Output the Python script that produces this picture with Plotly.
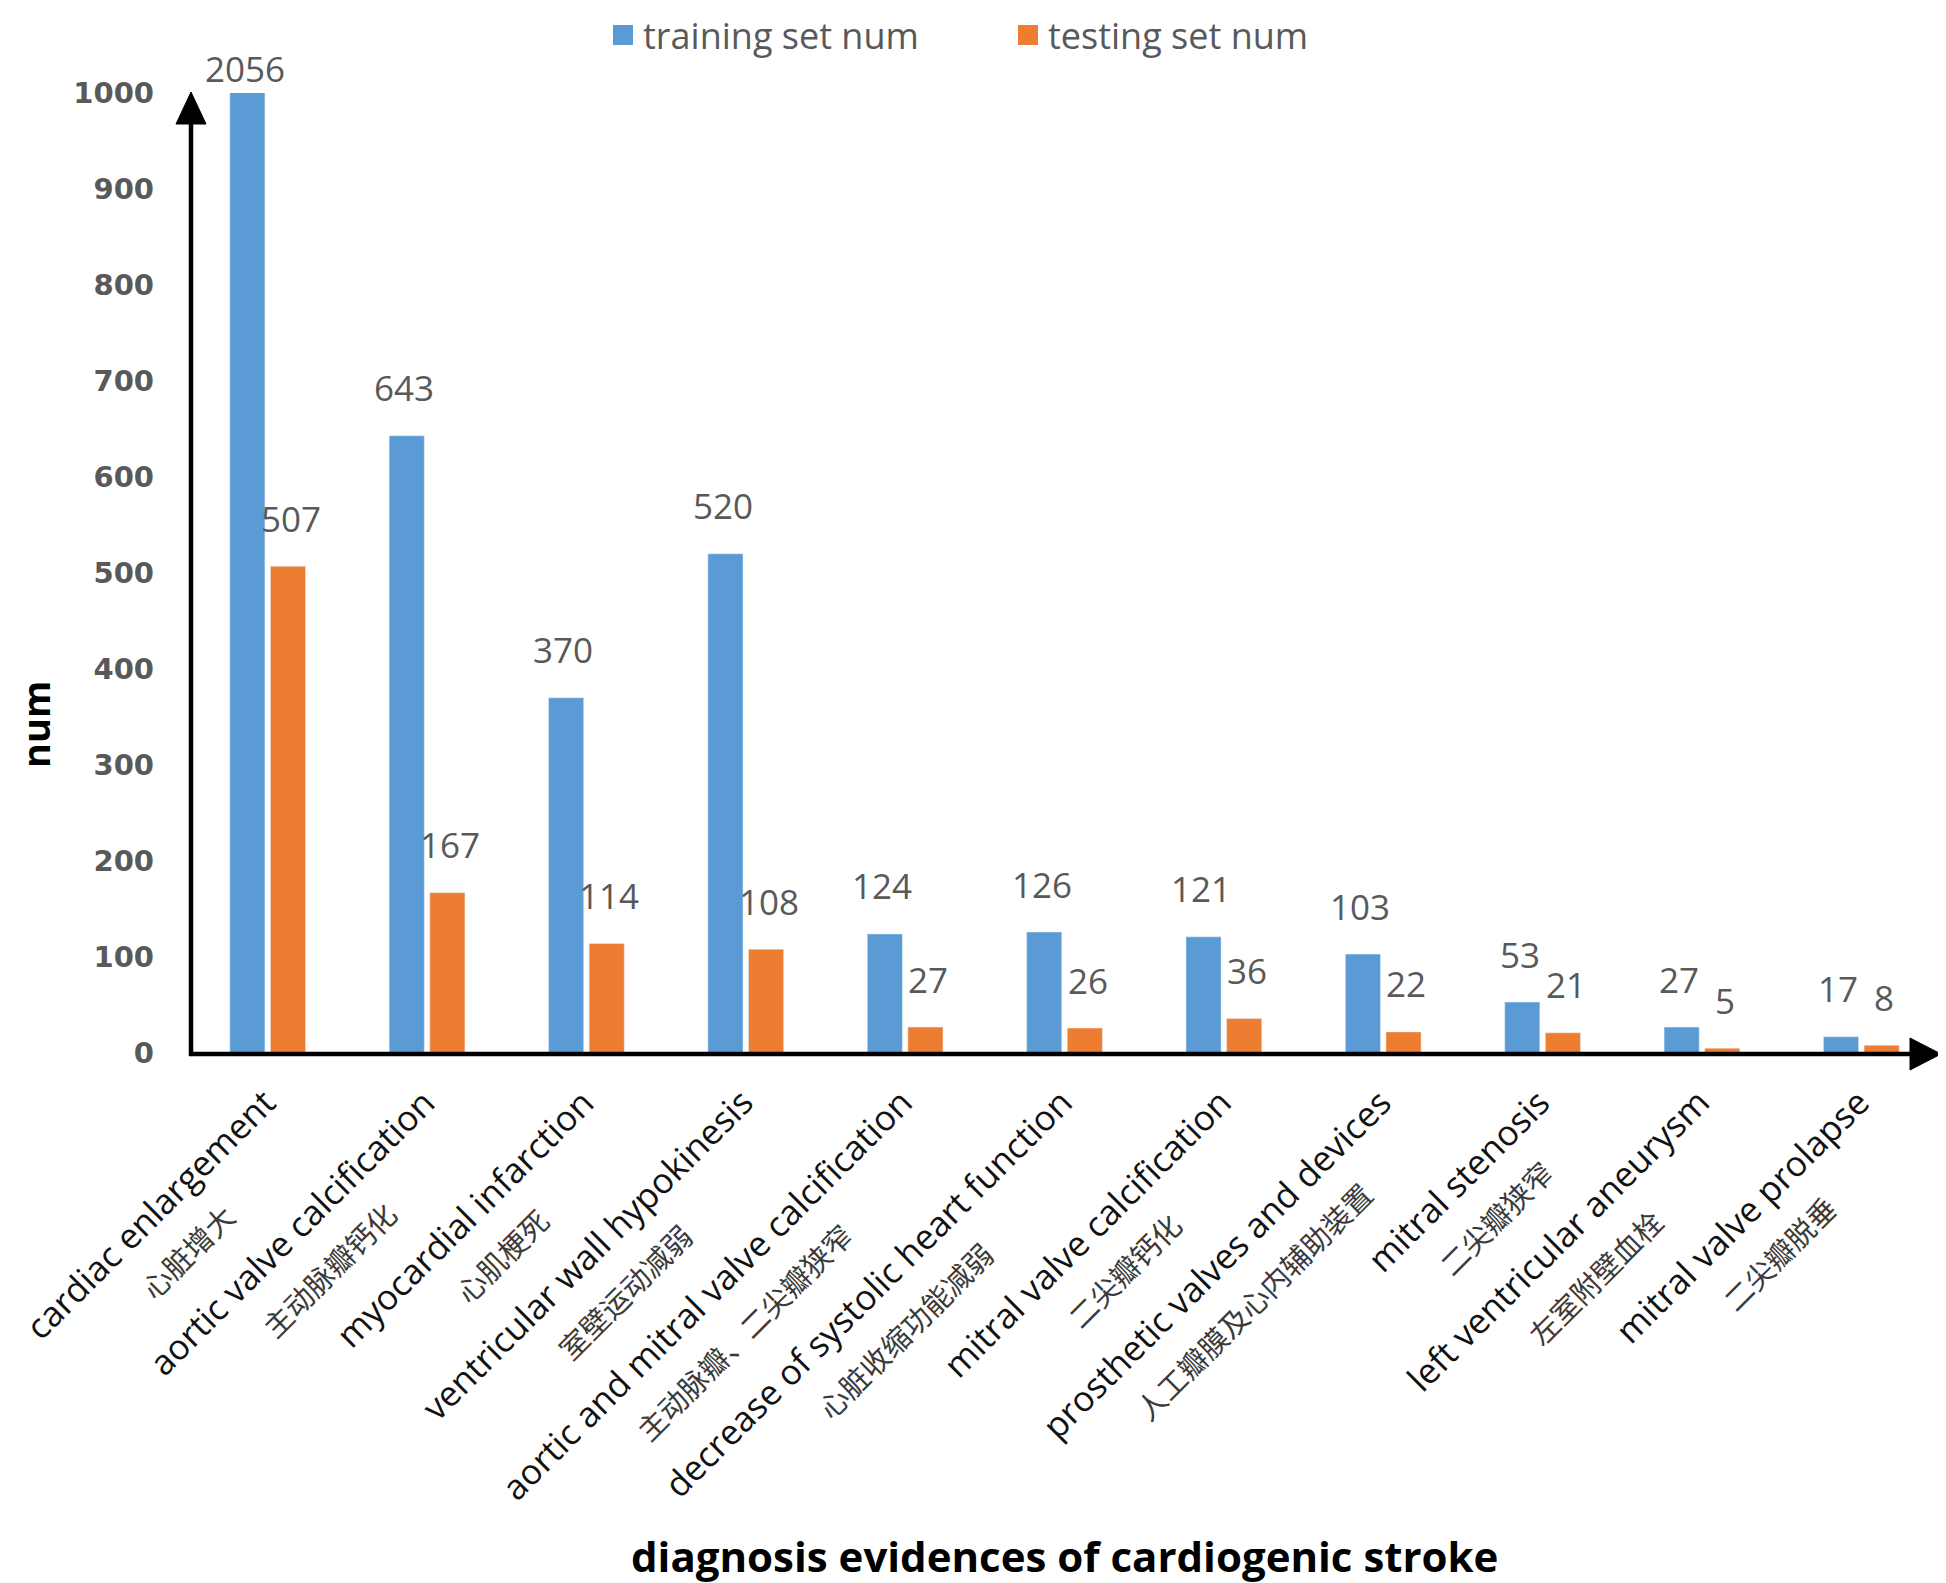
import plotly.graph_objects as go

# ---------------- data ----------------
categories_en = [
    "cardiac enlargement", "aortic valve calcification", "myocardial infarction",
    "ventricular wall hypokinesis", "aortic and mitral valve calcification",
    "decrease of systolic heart function", "mitral valve calcification",
    "prosthetic valves and devices", "mitral stenosis",
    "left ventricular aneurysm", "mitral valve prolapse",
]
categories_zh = [
    "心脏增大", "主动脉瓣钙化", "心肌梗死", "室壁运动减弱", "主动脉瓣、二尖瓣狭窄",
    "心脏收缩功能减弱", "二尖瓣钙化", "人工瓣膜及心内辅助装置", "二尖瓣狭窄",
    "左室附壁血栓", "二尖瓣脱垂",
]
training = [2056, 643, 370, 520, 124, 126, 121, 103, 53, 27, 17]
testing = [507, 167, 114, 108, 27, 26, 36, 22, 21, 5, 8]
y_ticks = [0, 100, 200, 300, 400, 500, 600, 700, 800, 900, 1000]
series_names = ["training set num", "testing set num"]
x_title = "diagnosis evidences of cardiogenic stroke"
y_title = "num"

# ---------------- style ----------------
PAGE_OFF = 8  # default body margin of the html page
W_FIG, H_FIG = 1946 - PAGE_OFF, 1583 - PAGE_OFF
PL, PR, PT, PB = 188, 1941, 93, 1053          # plot area in page pixels
PW, PH = PR - PL, PB - PT
BLUE, ORANGE = "#5B9BD5", "#ED7D31"
GRAY = "#595959"
YMAX = y_ticks[-1]
idx = list(range(len(categories_en)))


def px(x):
    return (x - PL) / PW


def py(y):
    return (PB - y) / PH


fig = go.Figure()
fig.add_trace(go.Bar(x=idx, y=training, name=series_names[0], marker_color=BLUE,
                     showlegend=False, legendgroup="a"))
fig.add_trace(go.Bar(x=idx, y=testing, name=series_names[1], marker_color=ORANGE,
                     showlegend=False, legendgroup="b"))
# legend entries
for name, col, grp in ((series_names[0], BLUE, "a"), (series_names[1], ORANGE, "b")):
    fig.add_trace(go.Scatter(x=[None], y=[None], mode="markers", name=name, legendgroup=grp,
                             marker=dict(symbol="square", size=22, color=col,
                                         line=dict(color=col, width=4))))

annotations = []
OFF = 23
for i in idx:
    for vals, sh in ((training, -OFF), (testing, OFF)):
        v = vals[i]
        annotations.append(dict(
            x=i, xref="x", y=min(v, YMAX), yref="y", xshift=sh,
            yshift=48 if v <= YMAX else 25,
            text=str(v), showarrow=False, xanchor="center", yanchor="middle",
            font=dict(family="Open Sans", size=35, color=GRAY)))
    annotations.append(dict(
        x=i, xref="x", y=0, yref="paper", xshift=55, yshift=-23,
        text=(f"<span style='font-size:35px'>{categories_en[i]}</span><br>"
              f"<span style='font-size:29px;color:#3a3a3a'>{categories_zh[i]}</span>"),
        showarrow=False, xanchor="right", yanchor="top", textangle=-45, align="center",
        font=dict(family="Open Sans, Noto Sans CJK SC", size=40, color="#111111")))

annotations.append(dict(
    x=0.5, xref="paper", y=py(1555), yref="paper", text=f"<b>{x_title}</b>",
    showarrow=False, xanchor="center", yanchor="middle",
    font=dict(family="Open Sans", size=42, color="black")))
annotations.append(dict(
    x=px(35), xref="paper", y=py(725), yref="paper", text=f"<b>{y_title}</b>",
    showarrow=False, xanchor="center", yanchor="middle", textangle=-90,
    font=dict(family="Open Sans", size=38, color="black")))

LW = 4.5
shapes = [
    dict(type="line", xref="paper", yref="paper", x0=px(191), x1=px(191),
         y0=py(1056), y1=py(118), line=dict(color="black", width=LW)),
    dict(type="path", xref="paper", yref="paper",
         path=f"M{px(191)},{py(92)} L{px(176)},{py(124)} L{px(206)},{py(124)} Z",
         fillcolor="black", line=dict(color="black", width=1)),
    dict(type="line", xref="paper", yref="paper", x0=px(189), x1=px(1915),
         y0=py(1054), y1=py(1054), line=dict(color="black", width=LW)),
    dict(type="path", xref="paper", yref="paper",
         path=f"M{px(1941)},{py(1054)} L{px(1910)},{py(1038)} L{px(1910)},{py(1070)} Z",
         fillcolor="black", line=dict(color="black", width=1)),
]

fig.update_layout(
    width=W_FIG, height=H_FIG,
    margin=dict(l=PL - PAGE_OFF, r=1946 - PR, t=PT - PAGE_OFF, b=1583 - PB, autoexpand=False),
    paper_bgcolor="white", plot_bgcolor="white",
    barmode="group", bargap=0.49, bargroupgap=0.136,
    showlegend=True,
    legend=dict(orientation="h", x=px(603), xanchor="left", y=py(35), yanchor="middle",
                font=dict(family="Open Sans", size=36, color=GRAY),
                itemsizing="trace", entrywidth=360, entrywidthmode="pixels",
                bgcolor="rgba(0,0,0,0)"),
    xaxis=dict(range=[-0.5, len(idx) - 0.5], showticklabels=False, showgrid=False,
               zeroline=False, showline=False, ticks=""),
    yaxis=dict(range=[0, YMAX], tickvals=y_ticks, showgrid=False, zeroline=False,
               showline=False, ticks="", ticklabelstandoff=33,
               tickfont=dict(family="DejaVu Sans", size=29, color=GRAY, weight="bold")),
    annotations=annotations,
    shapes=shapes,
)

fig.write_html("out.html")
